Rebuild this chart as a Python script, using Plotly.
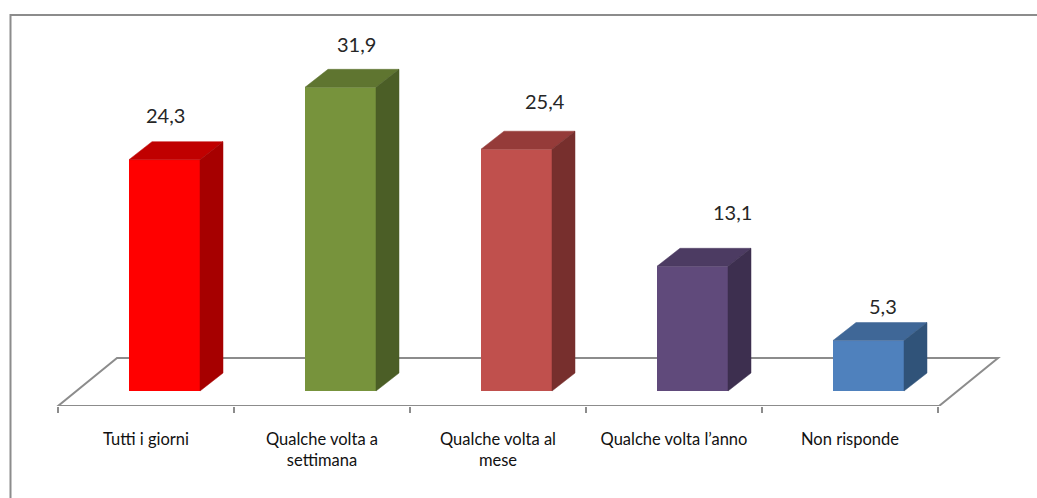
import plotly.graph_objects as go

# Survey answers and their percentages
categories = ["Tutti i giorni", "Qualche volta a<br>settimana", "Qualche volta al<br>mese",
              "Qualche volta l’anno", "Non risponde"]
values = [24.3, 31.9, 25.4, 13.1, 5.3]

# Face colours of each column: front, top, side
front_colors = ["#FF0000", "#77933C", "#C0504D", "#604A7B", "#4F81BD"]
top_colors = ["#C00000", "#5F7530", "#953B39", "#4C3B62", "#3F6797"]
side_colors = ["#A60000", "#4B5E26", "#772F2D", "#3D2F4F", "#305379"]

# Hand-placed offsets of the value labels, in pixels
label_dx = [-11, 4, 17, 28, 3]
label_dy = [27, 25, 30, 36, 17]

WIDTH, HEIGHT = 1037, 498
PLOT_BOTTOM = 92          # room for the category labels
PX_PER_CAT = 176.0
PX_PER_UNIT = 9.52
GREY = "#8C8C8C"

# Oblique projection of the pseudo-3D columns, in axis units
BAR_WIDTH = 71 / PX_PER_CAT
BAR_SHIFT = 18.5 / PX_PER_CAT
DEPTH_X = 23 / PX_PER_CAT
DEPTH_Y = 18 / PX_PER_UNIT

x_range = [-146 / PX_PER_CAT, (WIDTH - 146) / PX_PER_CAT]
y_range = [-15 / PX_PER_UNIT, 391 / PX_PER_UNIT]

fig = go.Figure()

centers = [i + BAR_SHIFT for i in range(len(values))]

fig.add_trace(go.Bar(
    x=centers, y=values, width=BAR_WIDTH,
    marker=dict(color=front_colors, line=dict(width=0)),
    hoverinfo="skip", showlegend=False,
))

# Top and side faces are extruded from each value
for c, v, top, side in zip(centers, values, top_colors, side_colors):
    left, right = c - BAR_WIDTH / 2, c + BAR_WIDTH / 2
    fig.add_trace(go.Scatter(
        x=[left, right, right + DEPTH_X, left + DEPTH_X, left],
        y=[v, v, v + DEPTH_Y, v + DEPTH_Y, v],
        mode="lines", fill="toself", fillcolor=top,
        line=dict(color=top, width=0.5), hoverinfo="skip", showlegend=False,
    ))
    fig.add_trace(go.Scatter(
        x=[right, right + DEPTH_X, right + DEPTH_X, right, right],
        y=[0, DEPTH_Y, v + DEPTH_Y, v, 0],
        mode="lines", fill="toself", fillcolor=side,
        line=dict(color=side, width=0.5), hoverinfo="skip", showlegend=False,
    ))

# Value labels with a decimal comma
annotations = [
    dict(x=c + DEPTH_X / 2, y=v + DEPTH_Y, text=f"{v}".replace(".", ","),
         showarrow=False, xshift=dx, yshift=dy,
         font=dict(family="Lato", size=20, color="#262626"))
    for c, v, dx, dy in zip(centers, values, label_dx, label_dy)
]

# Floor parallelogram
floor_x0, floor_x1 = -0.5, 4.5
floor_y0 = y_range[0]
floor_y1 = 33 / PX_PER_UNIT
floor_dx = 59 / PX_PER_CAT
floor_path = (
    f"M {floor_x0} {floor_y0} L {floor_x1 + 0.006} {floor_y0} "
    f"L {floor_x1 + 0.006 + floor_dx} {floor_y1} L {floor_x0 + floor_dx} {floor_y1} Z"
)

# Outer frame runs along the top and the left edge only
def py(pixel):
    return (HEIGHT - PLOT_BOTTOM - pixel) / (HEIGHT - PLOT_BOTTOM)

frame_path = f"M {10.5 / WIDTH} {py(HEIGHT)} L {10.5 / WIDTH} {py(15)} L 1 {py(15)}"

fig.update_layout(
    width=WIDTH, height=HEIGHT,
    margin=dict(l=0, r=0, t=0, b=PLOT_BOTTOM, pad=0),
    paper_bgcolor="white", plot_bgcolor="white",
    showlegend=False,
    annotations=annotations,
    shapes=[
        dict(type="path", xref="x", yref="y", path=floor_path, layer="below",
             line=dict(color=GREY, width=2)),
        dict(type="path", xref="paper", yref="paper", path=frame_path, layer="above",
             line=dict(color=GREY, width=2)),
    ],
    xaxis=dict(
        range=x_range, showgrid=False, zeroline=False, showline=False,
        tickmode="array", tickvals=list(range(len(categories))), ticktext=categories,
        ticks="", ticklabelstandoff=21,
        tickfont=dict(family="Lato", size=16.5, color="#111111"),
        minor=dict(
            tickmode="array", tickvals=[i - 0.5 for i in range(len(categories) + 1)],
            ticks="outside", ticklen=6, tickwidth=2, tickcolor=GREY, showgrid=False,
        ),
    ),
    yaxis=dict(range=y_range, visible=False),
)

fig.write_html("out.html", config=dict(displayModeBar=False))
